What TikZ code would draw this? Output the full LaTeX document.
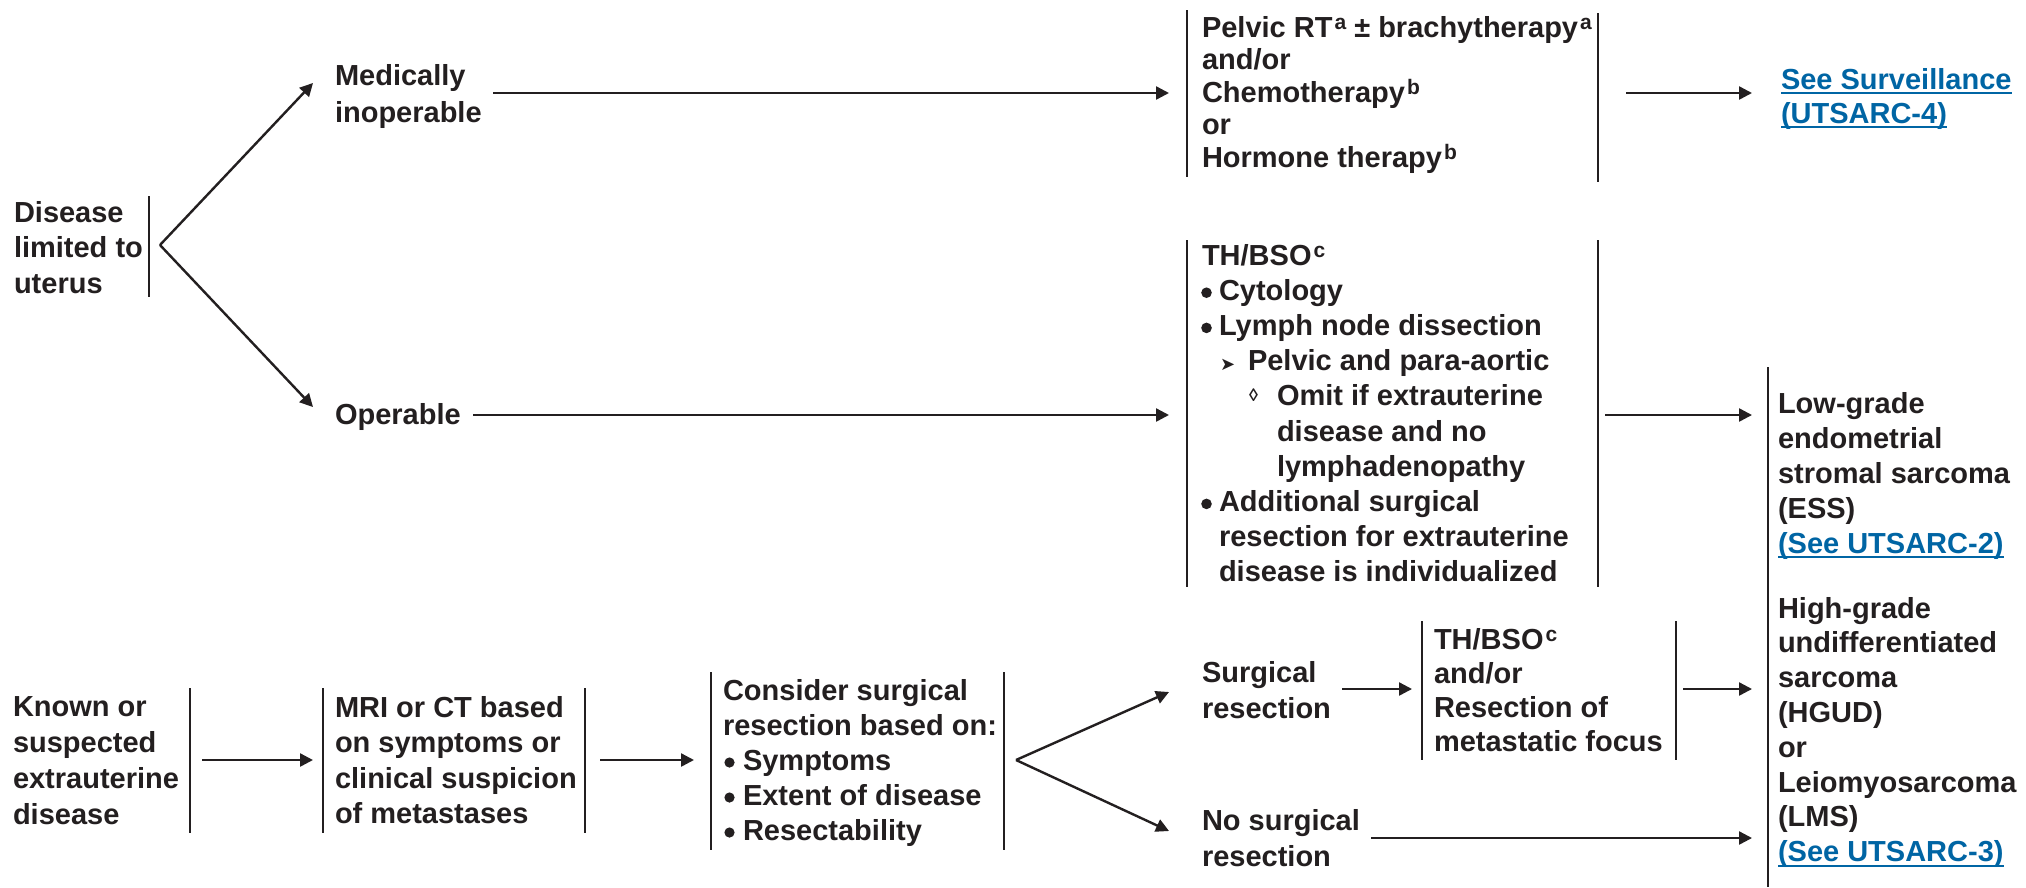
\documentclass[tikz,border=0pt]{standalone}
\usepackage{fontspec}
\setmainfont{Liberation Sans}
\newfontfamily\dejavu{DejaVu Sans}
\usetikzlibrary{arrows.meta}
\definecolor{ink}{RGB}{35,31,32}
\definecolor{linkblue}{RGB}{0,101,164}
\newcommand\mytab[2]{\fontsize{29}{#1}\selectfont\begin{tabular}[t]{@{}l@{}}#2\end{tabular}}
\newcommand\sps[1]{\hspace{2pt}\raisebox{8pt}{\fontsize{21}{21}\selectfont #1}}
\newcommand\myul[1]{\setbox0\hbox{#1}\rlap{\rule[-5pt]{\wd0}{2pt}}\box0}
\newcommand\bula{\hspace*{17pt}}
\newcommand\bulb{\hspace*{20pt}}
\newcommand\tri{\makebox[28pt][l]{\smash{\dejavu\fontsize{18}{18}\selectfont ➤}}}
\newcommand\loz{\makebox[28pt][l]{\smash{\raisebox{4pt}{\fontsize{18}{18}\selectfont ◊}}}}
\begin{document}
\begin{tikzpicture}[x=1pt,y=-1pt,
  txt/.style={anchor=base west,inner sep=0pt,outer sep=0pt,font=\bfseries,text=ink},
  link/.style={txt,text=linkblue},
  bar/.style={draw=ink,line width=2.3pt},
  dot/.style={fill=ink},
  arr/.style={draw=ink,line width=2.4pt,-{Triangle[length=13pt,width=13pt]}}]
\useasboundingbox[fill=white] (0,0) rectangle (2026,887);

% ---------- text nodes ----------
\node[txt] (dis) at (14,222) {\mytab{35.5}{Disease\\limited to\\uterus}};
\node[txt] (medi) at (335,85) {\mytab{37}{Medically\\inoperable}};
\node[txt] (oper) at (335,424) {\mytab{36}{Operable}};
\node[txt] (rt) at (1202,37) {\mytab{32.5}{Pelvic RT\sps{a} ± brachytherapy\sps{a}\\and/or\\Chemotherapy\sps{b}\\or\\Hormone therapy\sps{b}}};
\node[link] (surv) at (1781,89) {\mytab{34}{\myul{See Surveillance}\\\myul{(UTSARC-4)}}};
\node[txt] (thbso) at (1202,265) {\mytab{35.2}{TH/BSO\sps{c}\\
  \bula Cytology\\
  \bula Lymph node dissection\\
  \hspace*{18pt}\tri Pelvic and para-aortic\\
  \hspace*{47pt}\loz Omit if extrauterine\\
  \hspace*{75pt}disease and no\\
  \hspace*{75pt}lymphadenopathy\\
  \bula Additional surgical\\
  \hspace*{17pt}resection for extrauterine\\
  \hspace*{17pt}disease is individualized}};
\node[txt] (lg) at (1778,413) {\mytab{35}{Low-grade\\endometrial\\stromal sarcoma\\(ESS)\\\textcolor{linkblue}{\myul{(See UTSARC-2)}}}};
\node[txt] (hg) at (1778,618) {\mytab{34.8}{High-grade\\undifferentiated\\sarcoma\\(HGUD)\\or\\Leiomyosarcoma\\(LMS)\\\textcolor{linkblue}{\myul{(See UTSARC-3)}}}};
\node[txt] (known) at (13,716) {\mytab{36}{Known or\\suspected\\extrauterine\\disease}};
\node[txt] (mri) at (335,717) {\mytab{35.5}{MRI or CT based\\on symptoms or\\clinical suspicion\\of metastases}};
\node[txt] (cons) at (723,700) {\mytab{35}{Consider surgical\\resection based on:\\\bulb Symptoms\\\bulb Extent of disease\\\bulb Resectability}};
\node[txt] (surg) at (1202,682) {\mytab{36}{Surgical\\resection}};
\node[txt] (nosurg) at (1202,830) {\mytab{36}{No surgical\\resection}};
\node[txt] (thm) at (1434,649) {\mytab{34}{TH/BSO\sps{c}\\and/or\\Resection of\\metastatic focus}};

% ---------- bullets ----------
\fill[dot] (1206.5,292.7) circle (5.3);
\fill[dot] (1206.5,327.9) circle (5.3);
\fill[dot] (1206.5,503.9) circle (5.3);
\fill[dot] (729.5,762.5) circle (5.1);
\fill[dot] (729.5,797.5) circle (5.1);
\fill[dot] (729.5,832.5) circle (5.1);

% ---------- bars ----------
\draw[bar] (149,196) -- (149,297);
\draw[bar] (1187,10) -- (1187,177);
\draw[bar] (1598,13) -- (1598,182);
\draw[bar] (1187,240) -- (1187,587);
\draw[bar] (1598,240) -- (1598,587);
\draw[bar] (1768,367) -- (1768,887);
\draw[bar] (190,688) -- (190,833);
\draw[bar] (323,688) -- (323,833);
\draw[bar] (585,688) -- (585,833);
\draw[bar] (711,672) -- (711,850);
\draw[bar] (1004,672) -- (1004,850);
\draw[bar] (1422,621) -- (1422,760);
\draw[bar] (1676,621) -- (1676,760);

% ---------- connector coordinates ----------
\coordinate (f1) at (160,245);
\coordinate (f1u) at (313,83);
\coordinate (f1d) at (313,407);
\coordinate (m0) at (493,93);   \coordinate (m1) at (1169,93);
\coordinate (o0) at (473,415);  \coordinate (o1) at (1169,415);
\coordinate (r0) at (1626,93);  \coordinate (r1) at (1752,93);
\coordinate (t0) at (1605,415); \coordinate (t1) at (1752,415);
\coordinate (k0) at (202,760);  \coordinate (k1) at (313,760);
\coordinate (q0) at (600,760);  \coordinate (q1) at (694,760);
\coordinate (f2) at (1016,760);
\coordinate (f2u) at (1169,692);
\coordinate (f2d) at (1169,831);
\coordinate (s0) at (1342,689); \coordinate (s1) at (1412,689);
\coordinate (h0) at (1683,689); \coordinate (h1) at (1752,689);
\coordinate (n0) at (1371,838); \coordinate (n1) at (1752,838);

% ---------- connectors ----------
\draw[arr] (f1) -- (f1u);
\draw[arr] (f1) -- (f1d);
\draw[arr] (m0) -- (m1);
\draw[arr] (o0) -- (o1);
\draw[arr] (r0) -- (r1);
\draw[arr] (t0) -- (t1);
\draw[arr] (k0) -- (k1);
\draw[arr] (q0) -- (q1);
\draw[arr] (f2) -- (f2u);
\draw[arr] (f2) -- (f2d);
\draw[arr] (s0) -- (s1);
\draw[arr] (h0) -- (h1);
\draw[arr] (n0) -- (n1);
\end{tikzpicture}
\end{document}
